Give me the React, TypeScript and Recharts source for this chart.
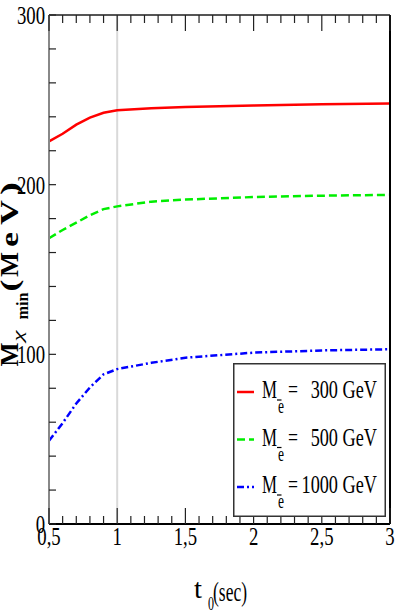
import { LineChart, Line, XAxis, YAxis, ReferenceLine, Legend } from 'recharts';

const FONT = '"Liberation Serif", "Times New Roman", serif';

// t0 (sec) sample points
const tValues = [0.5, 0.6, 0.7, 0.8, 0.9, 1.0, 1.25, 1.5, 2.0, 2.5, 3.0];
// M_chi^min (MeV) for each selectron mass
const mSel300 = [225.5, 230, 235.4, 239.5, 242.4, 243.8, 245, 245.8, 246.7, 247.4, 247.9];
const mSel500 = [168.4, 173.3, 177.6, 182, 185.6, 187.2, 190, 191.2, 192.7, 193.5, 194];
const mSel1000 = [49, 59.5, 71, 80.5, 88.2, 91.3, 95, 98, 101, 102.3, 103];

const seriesKeys = ['m300', 'm500', 'm1000'];
const seriesLabels = ['300', '500', '1000'];
const seriesColors = ['#ff0000', '#00ee00', '#0000ff'];
const dashes = ['', '8 4', '7 3 2 3'];

const xTicks = [
  0.5, 0.6, 0.7, 0.8, 0.9, 1.0, 1.1, 1.2, 1.3, 1.4, 1.5, 1.6, 1.7, 1.8, 1.9, 2.0,
  2.1, 2.2, 2.3, 2.4, 2.5, 2.6, 2.7, 2.8, 2.9, 3.0,
];
const xMajor = [0.5, 1, 1.5, 2, 2.5, 3];
const yTicks = [0, 20, 40, 60, 80, 100, 120, 140, 160, 180, 200, 220, 240, 260, 280, 300];
const yMajor = [0, 100, 200, 300];

// pieces of the rotated "(MeV)" unit: glyph, start along the baseline, length
const unitGlyphs: [string, number, number][] = [
  ['(', -22, 12],
  ['M', -7.5, 25],
  ['e', 22.5, 15],
  ['V', 44.5, 25],
  [')', 74.5, 13],
];

const data = tValues.map((t, i) => ({
  t,
  m300: mSel300[i],
  m500: mSel500[i],
  m1000: mSel1000[i],
}));

function BottomTick({ x, y, payload }: any) {
  const v = payload.value;
  const major = xMajor.includes(v);
  return (
    <g>
      <line x1={x} x2={x} y1={y} y2={y - (major ? 16 : 8)} stroke="#222" strokeWidth={1.2} />
      {major && (
        <text
          transform={`translate(${x},${y + 21}) scale(0.75,1)`}
          textAnchor="middle"
          fontSize={25}
          fontFamily={FONT}
          fill="#000"
        >
          {String(v).replace('.', ',')}
        </text>
      )}
    </g>
  );
}

function TopTick({ x, y, payload }: any) {
  const major = xMajor.includes(payload.value);
  return <line x1={x} x2={x} y1={y} y2={y + (major ? 16 : 8)} stroke="#222" strokeWidth={1.2} />;
}

function LeftTick({ x, y, payload }: any) {
  const v = payload.value;
  return (
    <g>
      <line x1={x} x2={x + 7} y1={y} y2={y} stroke="#222" strokeWidth={1.2} />
      {yMajor.includes(v) && (
        <text
          transform={`translate(${x - 4},${y + 9}) scale(0.75,1)`}
          textAnchor="end"
          fontSize={25}
          fontFamily={FONT}
          fill="#000"
        >
          {v}
        </text>
      )}
    </g>
  );
}

function RightTick({ x, y }: any) {
  return <line x1={x} x2={x - 7} y1={y} y2={y} stroke="#222" strokeWidth={1.2} />;
}

function YTitle({ viewBox }: any) {
  const vb = viewBox ?? { x: 48, y: 15, width: 1, height: 509 };
  const cy = vb.y + vb.height / 2;
  return (
    <g transform={`translate(18, ${cy}) rotate(-90)`} fontFamily={FONT} fill="#000" fontWeight="bold">
      <text x={-97} y={0} fontSize={25} textLength={24} lengthAdjust="spacingAndGlyphs">
        M
      </text>
      <text x={-72} y={5} fontSize={15} fontStyle="italic" fontWeight="normal" textLength={11} lengthAdjust="spacingAndGlyphs">
        χ
      </text>
      <text x={-50} y={10} fontSize={17} textLength={27} lengthAdjust="spacingAndGlyphs">
        min
      </text>
      {unitGlyphs.map(([g, u, len]) => (
        <text key={g} x={u} y={0} fontSize={25} textLength={len} lengthAdjust="spacingAndGlyphs">
          {g}
        </text>
      ))}
    </g>
  );
}

function XTitle({ viewBox }: any) {
  const vb = viewBox ?? { x: 49, y: 524, width: 341, height: 1 };
  const cx = vb.x + vb.width / 2;
  const by = vb.y + 76;
  return (
    <g fontFamily={FONT} fill="#000">
      <text x={cx - 25.5} y={by - 2} fontSize={27} textLength={8} lengthAdjust="spacingAndGlyphs">
        t
      </text>
      <text x={cx - 11.5} y={by + 10} fontSize={19} textLength={6} lengthAdjust="spacingAndGlyphs">
        0
      </text>
      <text x={cx - 6.5} y={by + 1} fontSize={28} textLength={34} lengthAdjust="spacingAndGlyphs">
        (sec)
      </text>
    </g>
  );
}

function LegendBox({ payload }: any) {
  const items = payload ?? [];
  return (
    <svg width={153} height={154} style={{ display: 'block' }} fontFamily={FONT}>
      <rect x={0.75} y={0.75} width={151.5} height={152.5} fill="#fff" stroke="#333" strokeWidth={1.5} />
      {seriesKeys.map((key, i) => {
        const entry = items.find((it: any) => it.dataKey === key);
        const ry = 29 + i * 47.5;
        return (
          <g key={key}>
            <line
              x1={4}
              x2={21}
              y1={ry}
              y2={ry}
              stroke={entry?.color ?? seriesColors[i]}
              strokeWidth={2.5}
              strokeDasharray={dashes[i] || undefined}
            />
            <text x={29} y={ry + 6} fontSize={25} textLength={15} lengthAdjust="spacingAndGlyphs">
              M
            </text>
            <line x1={44} x2={48.5} y1={ry + 8} y2={ry + 8} stroke="#000" strokeWidth={1.2} />
            <text x={45} y={ry + 21} fontSize={20} textLength={6} lengthAdjust="spacingAndGlyphs">
              e
            </text>
            <text x={55} y={ry + 6} fontSize={25} textLength={10} lengthAdjust="spacingAndGlyphs">
              =
            </text>
            <text transform={`translate(144,${ry + 6}) scale(0.73,1)`} textAnchor="end" fontSize={25}>
              {`${entry?.value ?? seriesLabels[i]} GeV`}
            </text>
          </g>
        );
      })}
    </svg>
  );
}

export default function App() {
  return (
    <div style={{ position: 'absolute', left: 0, top: 0, width: 395, height: 614, background: '#fff' }}>
      <LineChart width={395} height={614} data={data} margin={{ top: 14, right: 4, bottom: 89, left: 48 }}>
        <XAxis
          dataKey="t"
          type="number"
          domain={[0.5, 3]}
          ticks={xTicks}
          interval={0}
          height={1}
          tickSize={0}
          tickMargin={0}
          tickLine={false}
          axisLine={{ stroke: '#000', strokeWidth: 2 }}
          tick={<BottomTick />}
          label={{ content: (p: any) => <XTitle viewBox={p.viewBox} /> }}
        />
        <XAxis
          xAxisId="top"
          orientation="top"
          dataKey="t"
          type="number"
          domain={[0.5, 3]}
          ticks={xTicks}
          interval={0}
          height={1}
          tickSize={0}
          tickMargin={0}
          tickLine={false}
          axisLine={{ stroke: '#555', strokeWidth: 2 }}
          tick={<TopTick />}
        />
        <YAxis
          type="number"
          domain={[0, 300]}
          ticks={yTicks}
          interval={0}
          width={1}
          tickSize={0}
          tickMargin={0}
          tickLine={false}
          axisLine={{ stroke: '#888', strokeWidth: 2 }}
          tick={<LeftTick />}
          label={{ content: (p: any) => <YTitle viewBox={p.viewBox} /> }}
        />
        <YAxis
          yAxisId="right"
          orientation="right"
          type="number"
          domain={[0, 300]}
          ticks={yTicks}
          interval={0}
          width={1}
          tickSize={0}
          tickMargin={0}
          tickLine={false}
          axisLine={{ stroke: '#000', strokeWidth: 2 }}
          tick={<RightTick />}
        />
        <ReferenceLine x={1} stroke="#d9d9d9" strokeWidth={2} />
        {seriesKeys.map((key, i) => (
          <Line
            key={key}
            type="linear"
            dataKey={key}
            name={seriesLabels[i]}
            stroke={seriesColors[i]}
            strokeWidth={2.5}
            strokeDasharray={dashes[i] || undefined}
            dot={false}
            isAnimationActive={false}
          />
        ))}
        <Legend
          layout="vertical"
          align="center"
          verticalAlign="middle"
          wrapperStyle={{ left: 233, top: 363, width: 153, height: 154 }}
          content={<LegendBox />}
        />
      </LineChart>
    </div>
  );
}
